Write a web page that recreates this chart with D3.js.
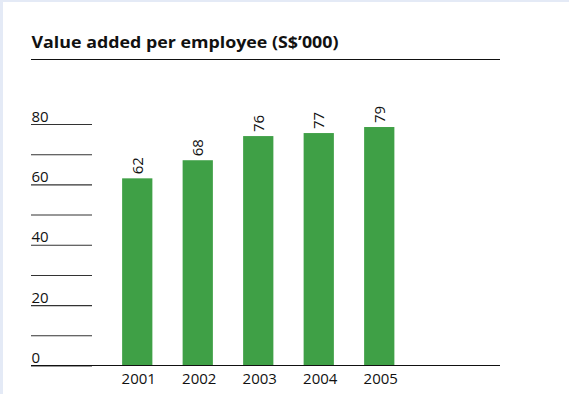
<!DOCTYPE html>
<html>
<head>
<meta charset="utf-8">
<script src="https://cdn.jsdelivr.net/npm/d3@7"></script>
<style>
  html, body { margin: 0; padding: 0; background: #e4eaf6; }
  svg { display: block; }
  text { font-family: "Open Sans", "Noto Sans", sans-serif; fill: #111; }
</style>
</head>
<body>
<script>
// Value added per employee, S$'000
const years = ["2001", "2002", "2003", "2004", "2005"];
const values = [62, 68, 76, 77, 79];
const gridValues = [0, 10, 20, 30, 40, 50, 60, 70, 80];
const labelValues = [0, 20, 40, 60, 80];
const title = "Value added per employee (S$\u2019000)";

const W = 569, H = 394;
const svg = d3.select("body").append("svg").attr("width", W).attr("height", H);

// white panel with thin tinted margin on the top and left
svg.append("rect").attr("x", 3).attr("y", 2).attr("width", W - 3).attr("height", H - 2).attr("fill", "#fff");

const left = 31, right = 500;

// title with rule beneath
svg.append("text")
  .attr("x", 31.5).attr("y", 48)
  .attr("font-size", 16.5).attr("font-weight", 700)
  .attr("textLength", 307).attr("lengthAdjust", "spacingAndGlyphs")
  .text(title);
svg.append("line")
  .attr("x1", left).attr("x2", right).attr("y1", 59.5).attr("y2", 59.5)
  .attr("stroke", "#111").attr("stroke-width", 1.2);

const y = d3.scaleLinear().domain([0, 80]).range([365.5, 124]);
const x = d3.scaleBand().domain(years).range([107, 409.5]).paddingInner(0.5).paddingOuter(0.25);

// short guide lines at every 10, labelled every 20
const yAxis = svg.append("g")
  .attr("transform", `translate(${left},0)`)
  .call(d3.axisRight(y).tickValues(gridValues).tickSize(61)
    .tickFormat(d => labelValues.includes(d) ? d : ""));
yAxis.select(".domain").remove();
yAxis.selectAll(".tick line").attr("stroke", "#333").attr("stroke-width", 1.1);
yAxis.selectAll(".tick text")
  .attr("x", 0.5).attr("dy", "-3px").attr("text-anchor", "start")
  .attr("font-size", 15).attr("fill", "#111")
  .attr("font-family", "\"Open Sans\", sans-serif");

// bars
svg.append("g").selectAll("rect").data(years).join("rect")
  .attr("x", d => x(d))
  .attr("width", x.bandwidth())
  .attr("y", (d, i) => y(values[i]))
  .attr("height", (d, i) => y(0) - y(values[i]))
  .attr("fill", "#3fa046");

// rotated value labels above bars
svg.append("g").selectAll("text").data(years).join("text")
  .attr("transform", (d, i) => `translate(${x(d) + x.bandwidth() / 2 + 5.5},${y(values[i]) - 4}) rotate(-90)`)
  .attr("text-anchor", "start")
  .attr("font-size", 15)
  .text((d, i) => values[i]);

// baseline and year labels
svg.append("line")
  .attr("x1", left).attr("x2", right).attr("y1", y(0)).attr("y2", y(0))
  .attr("stroke", "#111").attr("stroke-width", 1.2);
const xAxis = svg.append("g")
  .attr("transform", `translate(0,${y(0)})`)
  .call(d3.axisBottom(x).tickSize(0).tickPadding(8));
xAxis.select(".domain").remove();
xAxis.selectAll(".tick text")
  .attr("font-size", 15).attr("fill", "#111")
  .attr("font-family", "\"Open Sans\", sans-serif")
  .attr("dx", "1.5px");
</script>
</body>
</html>
